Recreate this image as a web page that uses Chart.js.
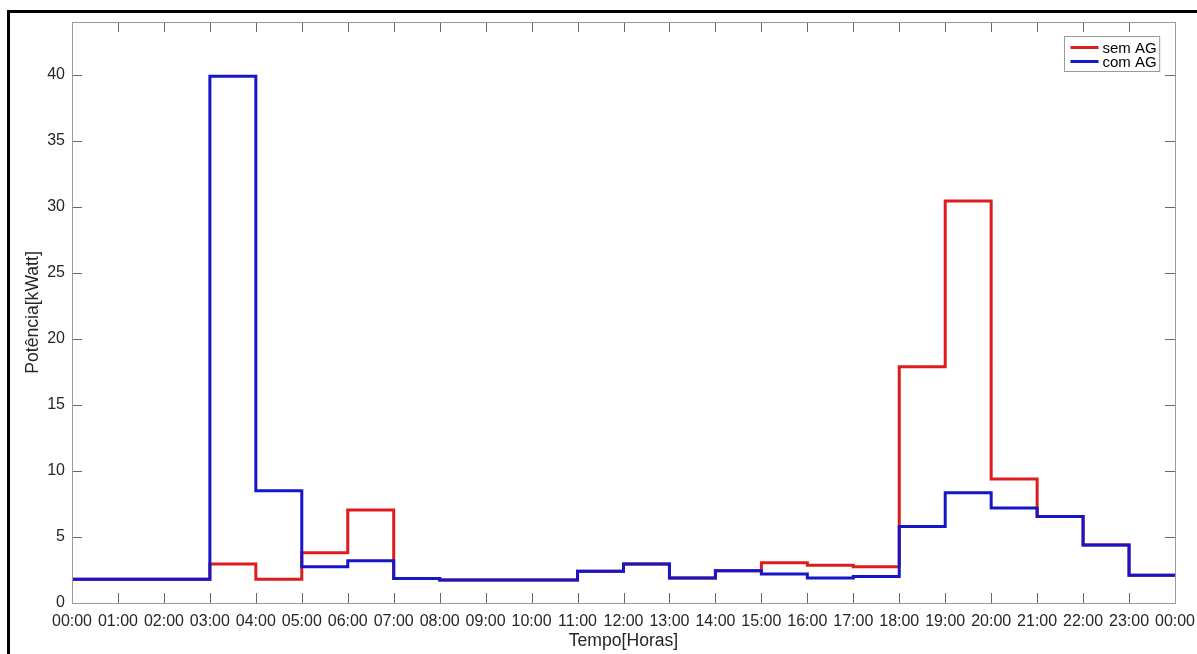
<!DOCTYPE html>
<html>
<head>
<meta charset="utf-8">
<script src="https://cdn.jsdelivr.net/npm/chart.js@4/dist/chart.umd.min.js"></script>
<style>
  html, body { margin: 0; padding: 0; background: #ffffff; }
  #wrap { position: relative; width: 1197px; height: 654px; overflow: hidden; background: #ffffff; }
  #frame { position: absolute; left: 7px; top: 10px; width: 1200px; height: 660px;
           border-left: 3px solid #000; border-top: 3px solid #000; pointer-events: none; }
  canvas { position: absolute; left: 0; top: 0; }
</style>
</head>
<body>
<div id="wrap">
  <canvas id="chart" width="1197" height="654"></canvas>
  <div id="frame"></div>
</div>
<script>
// Hourly power demand, one value per hour slot (00:00-01:00, 01:00-02:00, ...)
const hourLabels = ['00:00','01:00','02:00','03:00','04:00','05:00','06:00','07:00','08:00',
  '09:00','10:00','11:00','12:00','13:00','14:00','15:00','16:00','17:00','18:00','19:00',
  '20:00','21:00','22:00','23:00','00:00'];

const semAG = [1.8, 1.8, 1.8, 2.95, 1.8, 3.8, 7.05, 1.85, 1.75, 1.75, 1.75, 2.4,
  2.95, 1.9, 2.45, 3.05, 2.85, 2.75, 17.9, 30.45, 9.4, 6.55, 4.4, 2.1];

const comAG = [1.8, 1.8, 1.8, 39.9, 8.5, 2.75, 3.2, 1.85, 1.75, 1.75, 1.75, 2.4,
  2.95, 1.9, 2.45, 2.2, 1.9, 2.0, 5.8, 8.35, 7.2, 6.55, 4.4, 2.1];

const yTicks = [0, 5, 10, 15, 20, 25, 30, 35, 40];

// Each hour value is held until the next hour: a point at the start of every
// slot, plus a closing point at 24:00
function stairs(values) {
  const pts = values.map((v, i) => ({ x: i, y: v }));
  pts.push({ x: values.length, y: values[values.length - 1] });
  return pts;
}

const FONT = "'Liberation Sans', Arial, Helvetica, sans-serif";
const TEXT = '#262626';

// Box around the plot with inward tick marks on all four sides
const boxAxes = {
  id: 'boxAxes',
  afterDatasetsDraw(chart) {
    const { ctx, chartArea: a, scales } = chart;
    const len = 10;
    ctx.save();
    ctx.lineWidth = 1;
    ctx.strokeStyle = '#666666';
    ctx.beginPath();
    scales.x.ticks.forEach(t => {
      const px = Math.round(scales.x.getPixelForValue(t.value)) + 0.5;
      ctx.moveTo(px, a.bottom); ctx.lineTo(px, a.bottom - len);
      ctx.moveTo(px, a.top); ctx.lineTo(px, a.top + len);
    });
    scales.y.ticks.forEach(t => {
      const py = Math.round(scales.y.getPixelForValue(t.value)) + 0.5;
      ctx.moveTo(a.left, py); ctx.lineTo(a.left + len, py);
      ctx.moveTo(a.right, py); ctx.lineTo(a.right - len, py);
    });
    ctx.stroke();
    ctx.strokeStyle = '#9a9a9a';
    ctx.strokeRect(Math.round(a.left) + 0.5, Math.round(a.top) + 0.5,
      Math.round(a.right - a.left), Math.round(a.bottom - a.top));
    ctx.restore();
  }
};

// Legend box in the upper right corner of the plot
const cornerLegend = {
  id: 'cornerLegend',
  afterDraw(chart) {
    const { ctx, chartArea: a } = chart;
    const sets = chart.data.datasets;
    const fontSize = 15;
    const rowH = 14;
    const lineLen = 28;
    ctx.save();
    ctx.font = fontSize + 'px ' + FONT;
    const textW = Math.max(...sets.map(d => ctx.measureText(d.label).width));
    const w = 6 + lineLen + 4 + textW + 3;
    const h = rowH * sets.length + 7;
    const x = Math.round(a.right - 16 - w) + 0.5;
    const y = Math.round(a.top + 14) + 0.5;
    ctx.fillStyle = '#ffffff';
    ctx.fillRect(x, y, w, h);
    ctx.strokeStyle = '#9a9a9a';
    ctx.lineWidth = 1;
    ctx.strokeRect(x, y, w, h);
    sets.forEach((d, i) => {
      const cy = y + 4 + rowH * (i + 0.5);
      ctx.strokeStyle = d.borderColor;
      ctx.lineWidth = 3;
      ctx.beginPath();
      ctx.moveTo(x + 6, cy); ctx.lineTo(x + 6 + lineLen, cy);
      ctx.stroke();
      ctx.fillStyle = '#000000';
      ctx.textBaseline = 'middle';
      ctx.textAlign = 'left';
      ctx.fillText(d.label, x + 6 + lineLen + 4, cy + 1);
    });
    ctx.restore();
  }
};

new Chart(document.getElementById('chart'), {
  type: 'line',
  data: {
    datasets: [
      { label: 'sem AG', data: stairs(semAG), borderColor: '#de1c1c', order: 2 },
      { label: 'com AG', data: stairs(comAG), borderColor: '#1616c8', order: 1 }
    ]
  },
  options: {
    responsive: false,
    animation: false,
    layout: { padding: { left: 0, top: 22, right: 22, bottom: 0 } },
    elements: {
      line: { stepped: 'before', borderWidth: 3, tension: 0, fill: false, borderJoinStyle: 'miter' },
      point: { radius: 0, hoverRadius: 0 }
    },
    plugins: { legend: { display: false }, tooltip: { enabled: false } },
    scales: {
      x: {
        type: 'linear', min: 0, max: 24,
        grid: { display: false, drawTicks: false }, border: { display: false },
        ticks: {
          stepSize: 1, autoSkip: false, maxRotation: 0, padding: 9,
          color: TEXT, font: { family: FONT, size: 16 },
          callback: v => hourLabels[v]
        },
        title: {
          display: true, text: 'Tempo[Horas]', color: TEXT,
          font: { family: FONT, size: 17.6 }, padding: { top: 0, bottom: 2 }
        },
        afterFit: s => { s.height = 51; s.paddingLeft = 0; s.paddingRight = 0; }
      },
      y: {
        min: 0, max: 44,
        grid: { display: false, drawTicks: false }, border: { display: false },
        afterBuildTicks: s => { s.ticks = yTicks.map(v => ({ value: v })); },
        ticks: {
          padding: 7, color: TEXT, font: { family: FONT, size: 16 },
          callback: v => String(v)
        },
        title: {
          display: true, text: 'Potência[kWatt]', color: TEXT,
          font: { family: FONT, size: 17.6 }, padding: { top: 23, bottom: 0 }
        },
        afterFit: s => { s.width = 72; s.paddingTop = 0; s.paddingBottom = 0; }
      }
    }
  },
  plugins: [boxAxes, cornerLegend]
});
</script>
</body>
</html>
